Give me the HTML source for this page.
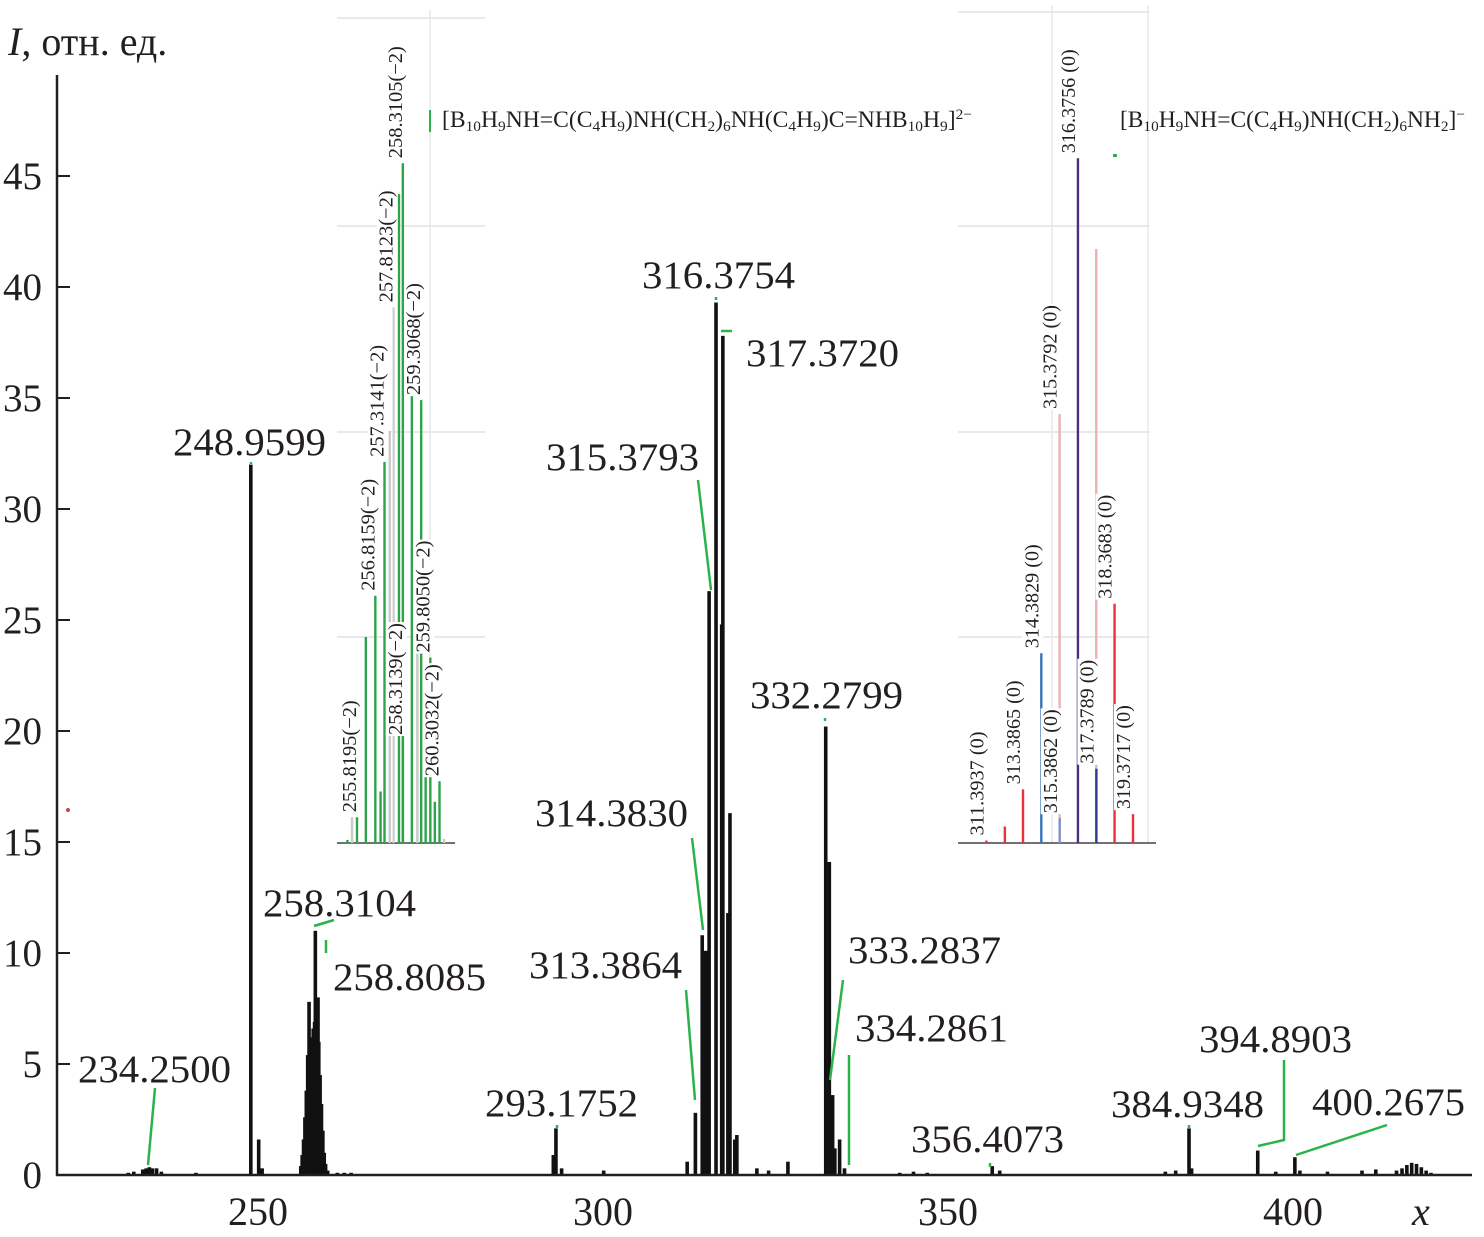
<!DOCTYPE html>
<html><head><meta charset="utf-8">
<style>
html,body{margin:0;padding:0;background:#fff;}
svg{display:block;}
text{font-family:"Liberation Serif",serif;fill:#231f20;}
</style></head>
<body>
<svg id="chart" width="1484" height="1237" viewBox="0 0 1484 1237" xmlns="http://www.w3.org/2000/svg">
<g id="insetL"></g>
<g id="insetR"></g>
<g id="marks"></g>
<g id="axes"></g>
<g id="labels"></g>
<text x="8" y="55" font-size="40"><tspan font-style="italic">I</tspan>, отн. ед.</text>
<text x="1412" y="1225" font-size="40" font-style="italic">x</text>
<text x="442" y="127" font-size="23" textLength="530" lengthAdjust="spacingAndGlyphs">[B<tspan font-size="15" dy="4">10</tspan><tspan dy="-4">H</tspan><tspan font-size="15" dy="4">9</tspan><tspan dy="-4">NH=C(C</tspan><tspan font-size="15" dy="4">4</tspan><tspan dy="-4">H</tspan><tspan font-size="15" dy="4">9</tspan><tspan dy="-4">)NH(CH</tspan><tspan font-size="15" dy="4">2</tspan><tspan dy="-4">)</tspan><tspan font-size="15" dy="4">6</tspan><tspan dy="-4">NH(C</tspan><tspan font-size="15" dy="4">4</tspan><tspan dy="-4">H</tspan><tspan font-size="15" dy="4">9</tspan><tspan dy="-4">)C=NHB</tspan><tspan font-size="15" dy="4">10</tspan><tspan dy="-4">H</tspan><tspan font-size="15" dy="4">9</tspan><tspan dy="-4">]</tspan><tspan font-size="15" dy="-8">2−</tspan></text>
<text x="1120" y="127" font-size="23" textLength="345" lengthAdjust="spacingAndGlyphs">[B<tspan font-size="15" dy="4">10</tspan><tspan dy="-4">H</tspan><tspan font-size="15" dy="4">9</tspan><tspan dy="-4">NH=C(C</tspan><tspan font-size="15" dy="4">4</tspan><tspan dy="-4">H</tspan><tspan font-size="15" dy="4">9</tspan><tspan dy="-4">)NH(CH</tspan><tspan font-size="15" dy="4">2</tspan><tspan dy="-4">)</tspan><tspan font-size="15" dy="4">6</tspan><tspan dy="-4">NH</tspan><tspan font-size="15" dy="4">2</tspan><tspan dy="-4">]</tspan><tspan font-size="15" dy="-8">−</tspan></text>
<line x1="430" y1="110" x2="430" y2="132" stroke="#2bb34a" stroke-width="2"/>
<rect x="1113" y="154" width="4" height="3" fill="#2bb34a"/>
</svg>
<script>
// ===== Main spectrum data =====
const peakMz = [231.2,232.0,233.3,233.8,234.25,234.7,235.3,236.0,241.0,
  248.96,250.1,250.6,
  256.2,256.4,256.6,256.8,257.0,257.2,257.4,257.6,257.8,258.0,258.2,258.31,258.5,258.7,258.81,259.0,259.2,259.4,259.6,259.8,260.1,
  261.5,262.5,263.5,
  292.8,293.18,294.0,300.1,
  312.2,313.39,314.38,314.9,315.38,316.38,317.2,317.37,318.1,318.4,319.1,319.4,
  322.3,324.0,326.8,
  332.28,332.8,333.28,333.6,334.29,335.0,
  343,345,347,356.41,357.5,
  381.5,383,384.93,385.3,394.89,397.5,400.27,401,405,410,412,
  415,415.8,416.5,417.2,417.9,418.6,419.3,420];
const peakI  = [0.1,0.15,0.25,0.3,0.35,0.3,0.3,0.15,0.1,
  32.0,1.6,0.3,
  0.4,0.9,1.6,2.6,3.8,5.4,7.8,5.8,6.2,6.6,6.9,11.0,7.8,8.0,6.0,4.5,3.2,2.0,1.0,0.5,0.2,
  0.1,0.1,0.1,
  0.9,2.1,0.3,0.2,
  0.6,2.8,10.8,10.1,26.3,39.3,24.8,37.8,11.8,16.3,1.6,1.8,
  0.3,0.2,0.6,
  20.2,14.1,3.6,1.2,1.6,0.3,
  0.1,0.15,0.1,0.4,0.2,
  0.15,0.2,2.1,0.3,1.1,0.15,0.8,0.2,0.15,0.2,0.25,
  0.2,0.3,0.45,0.55,0.5,0.35,0.2,0.1];
const yTicks = [0,5,10,15,20,25,30,35,40,45];
const xTicks = [250,300,350,400];
const labelText = ["234.2500","248.9599","258.3104","258.8085","293.1752","316.3754","317.3720","315.3793","314.3830","313.3864","332.2799","333.2837","334.2861","356.4073","384.9348","394.8903","400.2675"];
const labelX = [78,173,263,333,485,642,746,546,535,529,750,848,855,911,1111,1199,1312];
const labelY = [1082,455,916,990,1116,288,366,470,826,978,708,963,1041,1152,1117,1052,1115];

// ===== Inset data =====
const insLMz = [255.8195,256.8159,257.3141,257.8123,258.3105,258.3139,259.3068,259.8050,260.3032];
const insLI  = [2.5,24,37,52,66,10,43,18,6];
const insLLab = ["255.8195(−2)","256.8159(−2)","257.3141(−2)","257.8123(−2)","258.3105(−2)","258.3139(−2)","259.3068(−2)","259.8050(−2)","260.3032(−2)"];
const insLExtraMz = [255.3,255.55,256.3,257.1,257.6,258.1,258.8,259.1,259.55,260.05,260.55];
const insLExtraI  = [0.3,2.5,20,5,40,63,44,22,9,4,0.4];
const insRMz = [311.3937,312.4,313.3865,314.3829,315.3792,315.3862,316.3756,317.3720,317.3789,318.3683,319.3717];
const insRI  = [0.3,2.0,6.5,23,52,3,83,72,9,29,3.5];
const insRLab = ["311.3937 (0)",null,"313.3865 (0)","314.3829 (0)","315.3792 (0)","315.3862 (0)","316.3756 (0)",null,"317.3789 (0)","318.3683 (0)","319.3717 (0)"];
const insRCol = ["#e8333c","#e8333c","#e8333c","#3a73b8","#e8b4b0","#7f95d0","#4a2f7f","#e8b4b0","#2b3f8f","#e8333c","#e8333c"];

const NS="http://www.w3.org/2000/svg";
function mk(tag,attrs,parent){const e=document.createElementNS(NS,tag);for(const k in attrs)e.setAttribute(k,attrs[k]);parent.appendChild(e);return e;}

const X0=258, XK=6.9, Y0=1175, YK=22.2;
function xs(m){return X0+(m-250)*XK;}
function ys(v){return Y0-v*YK;}

const marks=document.getElementById('marks');
peakMz.forEach((m,i)=>{
  const r=mk('rect',{x:xs(m)-1.8,y:ys(peakI[i]),width:3.6,height:peakI[i]*YK,fill:'#111'},marks);
  
  
});

const axes=document.getElementById('axes');
const ya=mk('line',{x1:57,y1:75,x2:57,y2:Y0+1,stroke:'#231f20','stroke-width':2.5},axes);


const xa=mk('line',{x1:56,y1:Y0,x2:1472,y2:Y0,stroke:'#231f20','stroke-width':2.5},axes);


yTicks.forEach(v=>{
  if(v>0){const t=mk('line',{x1:57,y1:ys(v),x2:70,y2:ys(v),stroke:'#231f20','stroke-width':2},axes);
  
  }
  const tx=mk('text',{x:42,y:ys(v)+13,'font-size':39,'text-anchor':'end'},axes);
  tx.textContent=v;
  
  
});
xTicks.forEach(v=>{
  const tx=mk('text',{x:xs(v),y:1225,'font-size':40,'text-anchor':'middle'},axes);
  tx.textContent=v;
  
  
});

const labels=document.getElementById('labels');
labelText.forEach((s,i)=>{
  const t=mk('text',{x:labelX[i],y:labelY[i],'font-size':39,textLength:153,lengthAdjust:'spacingAndGlyphs'},labels);
  t.textContent=s;
  
  
});
const leaders=["155,1088 148,1165","314,926 334,920","326,940 326,953","698,480 711,590","692,838 703,930","686,990 695,1100","843,980 830,1080","849,1055 849,1165","1284,1060 1284,1140 1258,1146","1387,1125 1296,1155","721,331 732,331","557,1125 557,1128","251,462 251,464","716,297 716,300","825,718 825,721","1189,1125 1189,1128","990,1163 990,1167"];
leaders.forEach(p=>{
  const l=mk('polyline',{points:p,fill:'none',stroke:'#2bb34a','stroke-width':2.5},labels);
  
  
});
const dot=mk('circle',{cx:68,cy:810,r:2,fill:'#c44'},labels);



// ===== left inset =====
const gL=document.getElementById('insetL');
const LB=843, LX=(m)=>357+(m-255.8195)*18.4, LY=(v)=>LB-v*10.3;
[18,226,432,637].forEach(y=>{const g=mk('line',{x1:337,y1:y,x2:485,y2:y,stroke:'#e2e2e2','stroke-width':1.5},gL);
  });
const vg=mk('line',{x1:430,y1:10,x2:430,y2:843,stroke:'#e8e8e8','stroke-width':1.5},gL);


const lbl=mk('line',{x1:337,y1:LB,x2:455,y2:LB,stroke:'#444','stroke-width':1.5},gL);


insLExtraMz.forEach((m,i)=>{
  const r=mk('rect',{x:LX(m)-1.2,y:LY(insLExtraI[i]),width:2.4,height:insLExtraI[i]*10.3,fill:i%3==1?'#c9c9c9':'#2da44a'},gL);
  
  
});
insLMz.forEach((m,i)=>{
  const x=LX(m), y=LY(insLI[i]);
  const r=mk('rect',{x:x-1.2,y:y,width:2.4,height:insLI[i]*10.3,fill:i==3?'#d0d0d0':'#2da44a'},gL);
  
  
  const bg=mk('rect',{x:x-17,y:y-118,width:21,height:114,fill:'#fff'},gL);
  
  
  const t=mk('text',{x:0,y:0,'font-size':20,transform:`translate(${x-1},${y-5}) rotate(-90)`,textLength:112,lengthAdjust:'spacingAndGlyphs'},gL);
  t.textContent=insLLab[i];
  
  
});

// ===== right inset =====
const gR=document.getElementById('insetR');
const RB=843, RX=(m)=>1023+(m-313.3865)*18.38, RY=(v)=>RB-v*8.25;
[12,226,432,637].forEach(y=>{const g=mk('line',{x1:958,y1:y,x2:1150,y2:y,stroke:'#e2e2e2','stroke-width':1.5},gR);
  });
[1052,1148].forEach(x=>{const g=mk('line',{x1:x,y1:5,x2:x,y2:843,stroke:'#e8e8e8','stroke-width':1.5},gR);
  });
const rbl=mk('line',{x1:958,y1:RB,x2:1156,y2:RB,stroke:'#444','stroke-width':1.5},gR);


insRMz.forEach((m,i)=>{
  const x=RX(m), y=RY(insRI[i]);
  const r=mk('rect',{x:x-1.2,y:y,width:2.4,height:insRI[i]*8.25,fill:insRCol[i]},gR);
  
  
  if(insRLab[i]){
    const bg=mk('rect',{x:x-19,y:y-110,width:21,height:106,fill:'#fff'},gR);
    
    
    const t=mk('text',{x:0,y:0,'font-size':20,transform:`translate(${x-3},${y-5}) rotate(-90)`,textLength:104,lengthAdjust:'spacingAndGlyphs'},gR);
    t.textContent=insRLab[i];
    
    
  }
});
</script>
</body></html>
